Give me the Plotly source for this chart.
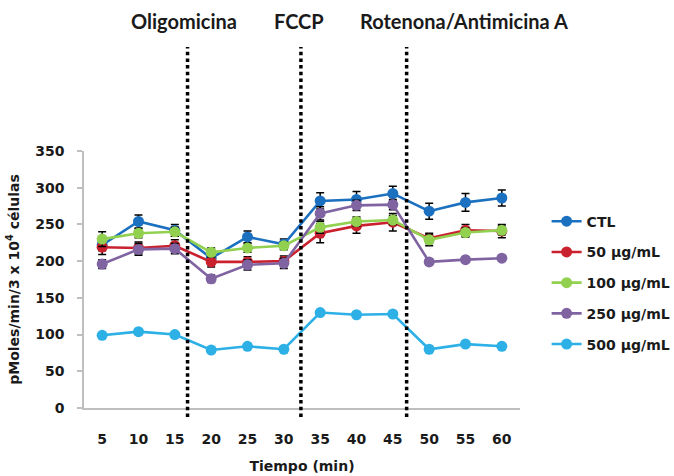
import plotly.graph_objects as go

# Measurement times (min)
tiempos = ["5", "10", "15", "20", "25", "30", "35", "40", "45", "50", "55", "60"]

# Oxygen consumption rate per group
series_names = ["CTL", "50 µg/mL", "100 µg/mL", "250 µg/mL", "500 µg/mL"]
ctl = [222, 254, 242, 204, 233, 223, 282, 284, 292, 268, 280, 286]
d50 = [219, 218, 221, 199, 199, 200, 238, 248, 253, 231, 242, 241]
d100 = [230, 238, 240, 212, 218, 221, 246, 254, 256, 229, 239, 242]
d250 = [196, 216, 217, 176, 195, 197, 265, 276, 277, 199, 202, 204]
d500 = [99, 104, 100, 79, 84, 80, 130, 127, 128, 80, 87, 84]

# Standard errors (no bars for the 500 µg/mL group)
err_ctl = [8, 9, 8, 7, 8, 7, 11, 11, 10, 11, 12, 11]
err_d50 = [10, 8, 8, 7, 7, 7, 13, 10, 12, 7, 8, 9]
err_d100 = [10, 6, 6, 6, 6, 5, 8, 6, 6, 8, 6, 6]
err_d250 = [6, 8, 7, 5, 7, 7, 9, 7, 7, 4, 3, 3]

colors = ["#1B70C0", "#C9212E", "#92D050", "#8064A2", "#2CB0E6"]

# Injection points (category index positions) and their labels
injection_pos = [2.35, 5.47, 8.38]
injection_label_pos = [2.25, 5.42, 9.96]
injection_names = ["Oligomicina", "FCCP", "Rotenona/Antimicina A"]

font_main = "DejaVu Sans"
text_color = "#1a1a1a"

fig = go.Figure()

values = [ctl, d50, d100, d250, d500]
errors = [err_ctl, err_d50, err_d100, err_d250, None]

for name, vals, err, col in zip(series_names, values, errors, colors):
    trace = dict(
        x=tiempos, y=vals, name=name, mode="lines+markers",
        line=dict(color=col, width=2.6),
        marker=dict(color=col, size=11),
        legendgroup=name,
    )
    if err is not None:
        trace["error_y"] = dict(type="data", array=err, visible=True,
                                color="black", thickness=1.5, width=4)
    fig.add_trace(go.Scatter(**trace))

# Dotted vertical markers for each injection
for xp in injection_pos:
    fig.add_shape(type="line", xref="x", yref="paper",
                  x0=xp, x1=xp, y0=-0.035, y1=1.405,
                  line=dict(color="black", width=3.5, dash="3.5px,3.2px"))

for xp, lab in zip(injection_label_pos, injection_names):
    fig.add_annotation(x=xp, y=1.505, xref="x", yref="paper",
                       text="<b>" + lab + "</b>", showarrow=False,
                       xanchor="center", yanchor="middle",
                       font=dict(family="Lato", size=20, color=text_color))

fig.update_layout(
    width=674, height=476,
    margin=dict(l=84, r=154, t=151, b=68),
    paper_bgcolor="white", plot_bgcolor="white",
    font=dict(family=font_main, color=text_color, size=14),
    showlegend=True,
    legend=dict(
        xref="container", yref="container",
        x=0.811, y=0.568, xanchor="left", yanchor="top",
        font=dict(family=font_main, size=14, color=text_color, weight="bold"),
        tracegroupgap=9.5, traceorder="grouped",
        bgcolor="rgba(0,0,0,0)",
    ),
)

fig.update_xaxes(
    type="category", categoryorder="array", categoryarray=tiempos,
    range=[-0.5, 11.5], automargin=False,
    showline=True, linecolor="#BFBFBF", linewidth=1.5,
    showgrid=False, zeroline=False, ticks="",
    tickfont=dict(family=font_main, size=14, color=text_color, weight="bold"),
    ticklabelstandoff=17,
    title=dict(text="<b>Tiempo (min)</b>", standoff=16,
               font=dict(family=font_main, size=14, color=text_color)),
)

fig.update_yaxes(
    range=[0, 350], dtick=50, automargin=False,
    showline=True, linecolor="#BFBFBF", linewidth=1.5,
    showgrid=False, zeroline=False,
    ticks="outside", ticklen=5, tickcolor="#BFBFBF", tickwidth=1.5,
    tickfont=dict(family=font_main, size=14, color=text_color, weight="bold"),
    ticklabelstandoff=10,
    title=dict(text="<b>pMoles/min/3 x 10<sup>4</sup> células</b>", standoff=12,
               font=dict(family=font_main, size=14, color=text_color)),
)

fig.write_html("out.html")
